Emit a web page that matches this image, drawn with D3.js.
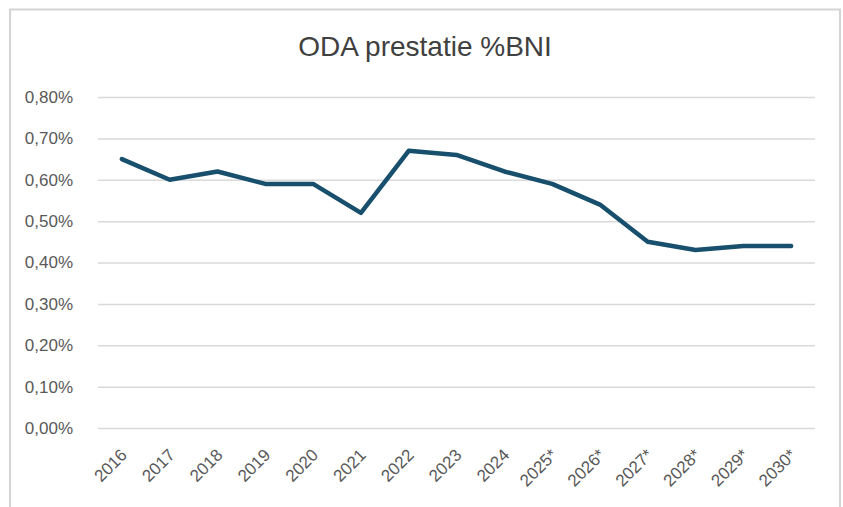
<!DOCTYPE html>
<html>
<head>
<meta charset="utf-8">
<script src="https://cdn.jsdelivr.net/npm/d3@7"></script>
<style>
  body { margin: 0; background: #fff; }
  text { font-family: "Liberation Sans", Arial, sans-serif; }
</style>
</head>
<body>
<div id="chart"></div>
<script>
// data
var years = ["2016","2017","2018","2019","2020","2021","2022","2023","2024","2025*","2026*","2027*","2028*","2029*","2030*"];
var odaPct = [0.65, 0.60, 0.62, 0.59, 0.59, 0.52, 0.67, 0.66, 0.62, 0.59, 0.54, 0.45, 0.43, 0.44, 0.44];
var yTicks = [0, 0.1, 0.2, 0.3, 0.4, 0.5, 0.6, 0.7, 0.8];
var title = "ODA prestatie %BNI";

var W = 843, H = 507;
var FONT = '"Liberation Sans", Arial, sans-serif';
var svg = d3.select('#chart').append('svg')
  .attr('width', W)
  .attr('height', H);

// chart frame (no bottom edge visible)
svg.append('path')
  .attr('d', 'M10,' + H + ' L10,9.5 L840,9.5 L840,' + H)
  .attr('fill', 'none')
  .attr('stroke', '#d4d4d4')
  .attr('stroke-width', 2);

var x = d3.scaleBand().domain(years).range([98, 815]);
var y = d3.scaleLinear().domain([0, 0.8]).range([428, 97]);

svg.append('text')
  .attr('x', 425)
  .attr('y', 56)
  .attr('text-anchor', 'middle')
  .attr('font-size', 28)
  .attr('fill', '#404040')
  .text(title);

// gridlines + y labels
var yAxis = svg.append('g')
  .attr('transform', 'translate(98,0)')
  .call(d3.axisLeft(y).tickValues(yTicks)
    .tickSize(-717).tickPadding(25)
    .tickFormat(function(d) { return d3.format('.2f')(d).replace('.', ',') + '%'; }));
yAxis.select('.domain').remove();
yAxis.selectAll('line').attr('stroke', '#d9d9d9').attr('stroke-width', 1.5);
yAxis.selectAll('text').attr('font-size', 17).attr('fill', '#595959').attr('font-family', FONT);

// x labels, rotated
var xAxis = svg.append('g')
  .attr('transform', 'translate(0,428)')
  .call(d3.axisBottom(x).tickSize(0));
xAxis.select('.domain').remove();
xAxis.selectAll('text')
  .attr('font-size', 17)
  .attr('fill', '#595959')
  .attr('font-family', FONT)
  .attr('text-anchor', 'end')
  .attr('dy', null)
  .attr('transform', 'translate(4,26) rotate(-45)');

var line = d3.line()
  .x(function(d, i) { return x(years[i]) + x.bandwidth() / 2; })
  .y(function(d) { return y(d); });

svg.append('path')
  .datum(odaPct)
  .attr('d', line)
  .attr('fill', 'none')
  .attr('stroke', '#174f6d')
  .attr('stroke-width', 4.5)
  .attr('stroke-linejoin', 'round')
  .attr('stroke-linecap', 'round');
</script>
</body>
</html>
